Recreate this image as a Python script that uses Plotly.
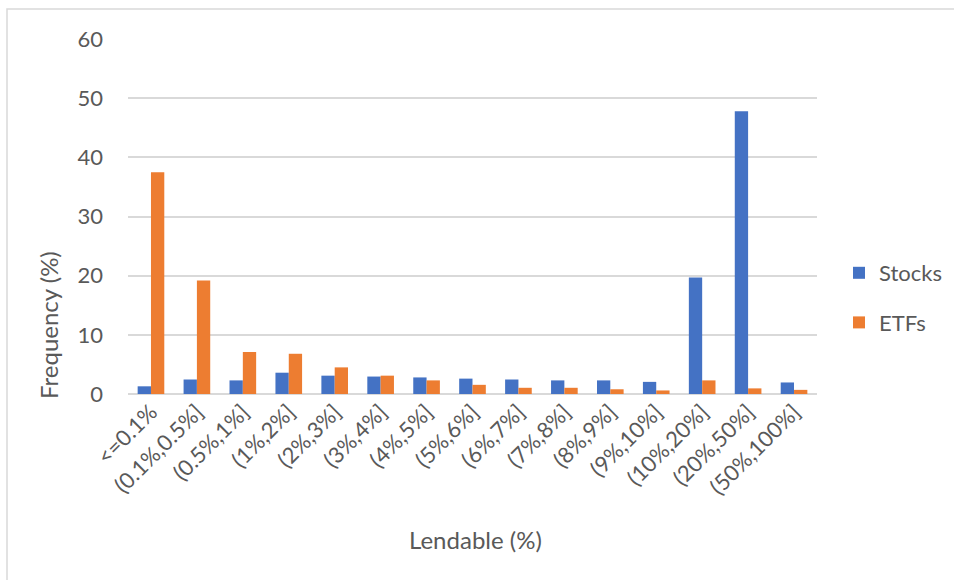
import plotly.graph_objects as go

categories = ["<=0.1%", "(0.1%,0.5%]", "(0.5%,1%]", "(1%,2%]", "(2%,3%]", "(3%,4%]",
              "(4%,5%]", "(5%,6%]", "(6%,7%]", "(7%,8%]", "(8%,9%]", "(9%,10%]",
              "(10%,20%]", "(20%,50%]", "(50%,100%]"]
stocks = [1.3, 2.45, 2.3, 3.6, 3.1, 2.95, 2.8, 2.6, 2.45, 2.3, 2.3, 2.05, 19.7, 47.8, 1.95]
etfs = [37.5, 19.2, 7.1, 6.8, 4.5, 3.1, 2.3, 1.55, 1.05, 1.05, 0.8, 0.6, 2.3, 0.95, 0.7]
y_ticks = [0, 10, 20, 30, 40, 50, 60]

FONT = "Lato"
TEXT = "#595959"
GRID = "#D9D9D9"

W, H = 954, 580
L, R, T, B = 128, 137, 39, 186
PW, PH = W - L - R, H - T - B


def px_x(x):
    return (x - L) / PW


def px_y(y):
    return (H - B - y) / PH


fig = go.Figure()
fig.add_trace(go.Bar(name="Stocks", x=categories, y=stocks, marker_color="#4472C4",
                     marker_line_width=0, legendgroup="a"))
fig.add_trace(go.Bar(name="ETFs", x=categories, y=etfs, marker_color="#ED7D31",
                     marker_line_width=0, legendgroup="b"))

fig.update_layout(
    width=W, height=H,
    margin=dict(l=L, r=R, t=T, b=B, autoexpand=False),
    paper_bgcolor="white", plot_bgcolor="white",
    barmode="group", bargap=0.42, bargroupgap=0,
    font=dict(family=FONT, color=TEXT, size=22),
    showlegend=True,
    legend=dict(xref="container", yref="container", x=839 / W, y=1 - 298 / H,
                xanchor="left", yanchor="middle",
                font=dict(size=22, color=TEXT), tracegroupgap=18,
                itemwidth=30, bgcolor="rgba(0,0,0,0)"),
    xaxis=dict(tickangle=-45, showgrid=False, showline=False, ticks="", automargin=False,
               tickfont=dict(size=22, color=TEXT)),
    yaxis=dict(range=[0, 60], tickvals=y_ticks, showgrid=True, gridcolor=GRID, gridwidth=1.5,
               zeroline=True, zerolinecolor=GRID, zerolinewidth=1.5, showline=False,
               ticks="", ticklabelstandoff=24, automargin=False,
               tickfont=dict(size=22, color=TEXT)),
    annotations=[
        dict(text="Lendable (%)", xref="paper", yref="paper", x=px_x(475), y=px_y(539),
             showarrow=False, xanchor="center", yanchor="middle",
             font=dict(size=24, color=TEXT)),
        dict(text="Frequency (%)", xref="paper", yref="paper", x=px_x(48), y=px_y(325),
             showarrow=False, xanchor="center", yanchor="middle", textangle=-90,
             font=dict(size=24, color=TEXT)),
    ],
    shapes=[dict(type="rect", xref="paper", yref="paper",
                 x0=px_x(7), x1=px_x(W + 10), y0=px_y(H + 10), y1=px_y(9),
                 line=dict(color=GRID, width=1.5), fillcolor="rgba(0,0,0,0)", layer="below")],
)

fig.write_html("out.html")
